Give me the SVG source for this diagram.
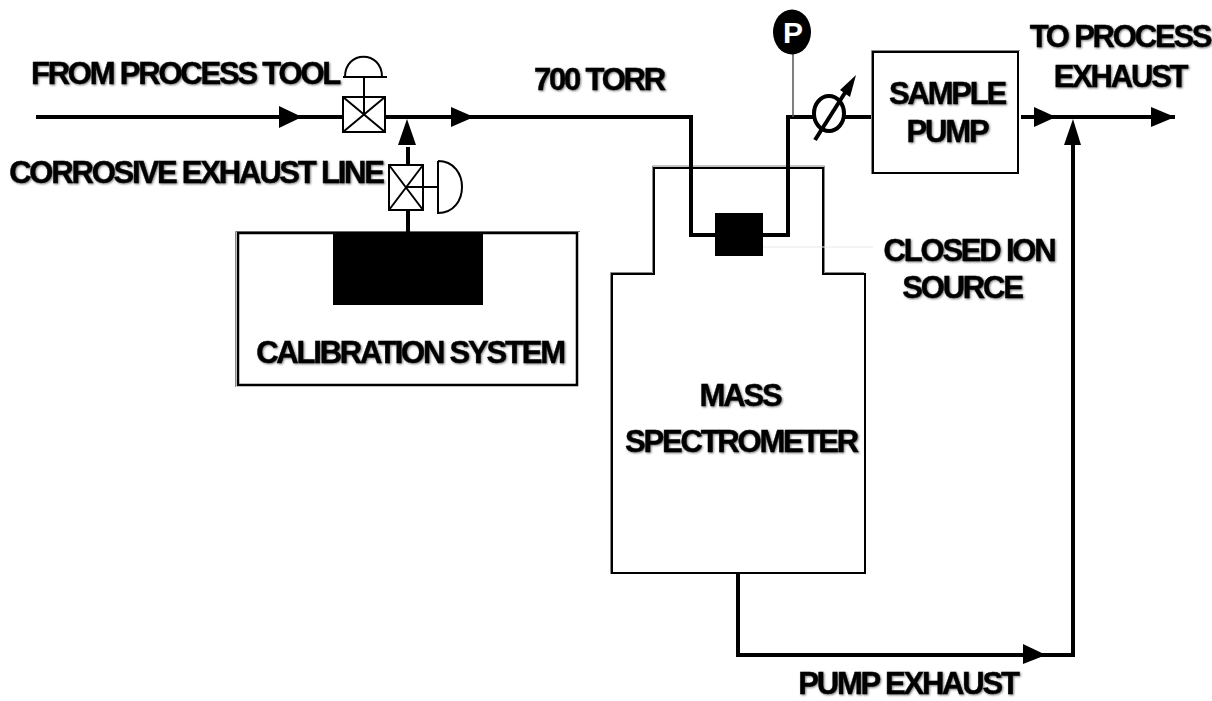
<svg xmlns="http://www.w3.org/2000/svg" width="1212" height="701" viewBox="0 0 1212 701">
<style>
text{font-family:"Liberation Sans",Arial,sans-serif;font-weight:700;font-size:31px;letter-spacing:-2.200px;text-anchor:middle;fill:#000;stroke:#000;stroke-width:.4;filter:drop-shadow(1px 1px 1px #777)}
.pipe{fill:none;stroke:#000;stroke-width:4}
.thin{fill:none;stroke:#000;stroke-width:2}
.edge{fill:none;stroke:#000;stroke-width:2.500}
.hi{fill:none;stroke:#888;stroke-width:1}
.ah{fill:#000}
</style>
<rect width="1212" height="701" fill="#fff"/>
<g id="calibration-system">
<path class="hi" d="M235.500 387V231.500H580"/>
<path class="edge" d="M238 233H577V385H238Z"/>
<rect x="333" y="233" width="150" height="72" fill="#000"/>
<text x="410" y="363">CALIBRATION SYSTEM</text>
</g>
<g id="mass-spectrometer">
<path class="hi" d="M610.500 574V272.500H652.500V166H824.500V272.500H864"/>
<path d="M612 573V274H654V168H823V274H865V573Z" fill="#fff" stroke="#000" stroke-width="2"/>
<text x="740" y="406">MASS</text>
<text x="741" y="452">SPECTROMETER</text>
</g>
<g id="connectors">
<path class="pipe" d="M36 117H343M385 117H691V235H715"/>
<path class="pipe" d="M763 235H788V117H816M845 117H872"/>
<path class="pipe" d="M1021 117H1175"/>
<path class="pipe" d="M738 573V655H1073V145"/>
<path class="pipe" d="M408 232V210M408 165V147"/>
<path d="M793 54V117" fill="none" stroke="#555" stroke-width="1.500"/>
<path d="M763 247H873" fill="none" stroke="#e8e8e8" stroke-width="1"/>
<polygon class="ah" points="279,106 302,117 279,128"/>
<polygon class="ah" points="451,107 474,117 451,127"/>
<polygon class="ah" points="1034,107 1056,117 1034,127"/>
<polygon class="ah" points="1151,107 1175,117 1151,127"/>
<polygon class="ah" points="1023,644 1046,655 1023,664"/>
<polygon class="ah" points="407,119 416,145 398,145"/>
<polygon class="ah" points="1073,119 1081,145 1064,145"/>
</g>
<g id="process-valve">
<rect class="thin" x="343" y="97" width="42" height="35"/>
<path class="thin" d="M343 97L385 132M385 97L343 132M364 114V77M343 77H387M345 77C345 50 382 50 382 77"/>
</g>
<g id="calibration-valve">
<rect class="thin" x="389" y="165" width="34" height="45"/>
<path class="thin" d="M389 165L423 210M423 165L389 210M406 187H438M438 161V213C470 213 470 161 438 161"/>
</g>
<g id="pressure-gauge">
<ellipse cx="792" cy="32" rx="19" ry="22.500" fill="#000"/>
<text x="793" y="43" style="font-size:30px;fill:#fff;stroke:none;filter:none;letter-spacing:0">P</text>
</g>
<g id="flow-valve">
<ellipse cx="829" cy="113.500" rx="15" ry="17.500" fill="#fff" stroke="#000" stroke-width="4"/>
<path d="M815 140L848 88" fill="none" stroke="#000" stroke-width="4"/>
<polygon class="ah" points="856,75 850,97 840,90"/>
</g>
<g id="sample-pump">
<path class="hi" d="M871.500 174V50.500H1020"/>
<rect x="873" y="52" width="145" height="121" fill="#fff" stroke="#000" stroke-width="2"/>
<text x="947" y="104">SAMPLE</text>
<text x="947" y="142">PUMP</text>
</g>
<g id="ion-source">
<rect x="715" y="213" width="48" height="43" fill="#000"/>
</g>
<g id="labels">
<text x="185" y="84">FROM PROCESS TOOL</text>
<text x="599" y="90">700 TORR</text>
<text x="196" y="183">CORROSIVE EXHAUST LINE</text>
<text x="1120" y="47">TO PROCESS</text>
<text x="1120" y="87">EXHAUST</text>
<text x="969" y="261">CLOSED ION</text>
<text x="962" y="298">SOURCE</text>
<text x="908" y="694">PUMP EXHAUST</text>
</g>
</svg>
